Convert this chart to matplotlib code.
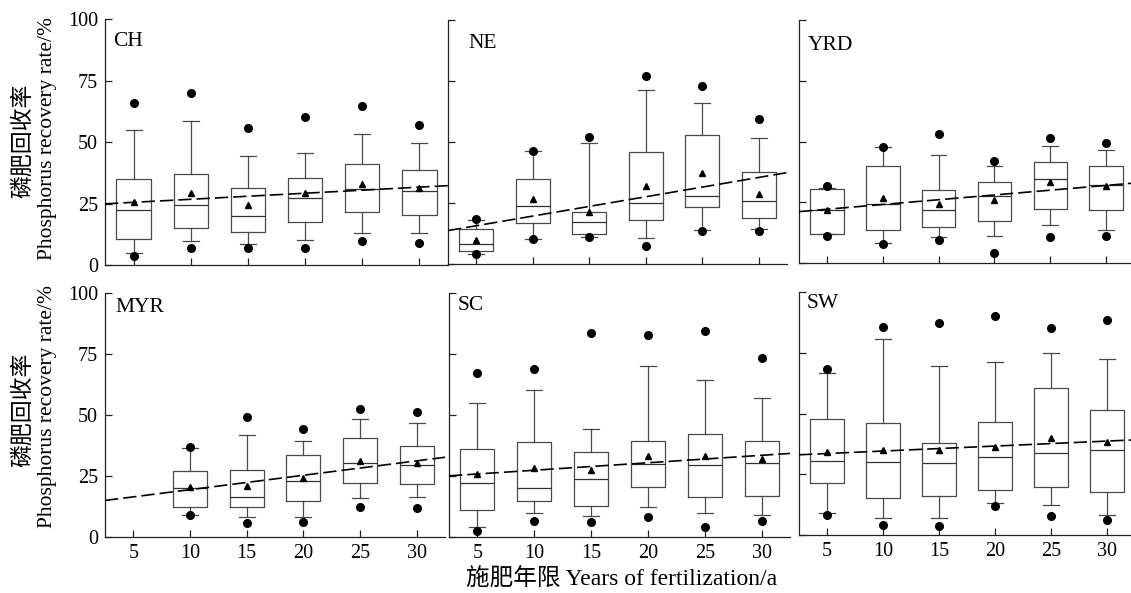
import numpy as np
import matplotlib
matplotlib.use('Agg')
import matplotlib.pyplot as plt

plt.rcParams['font.family'] = ['Liberation Serif', 'Noto Sans CJK SC']

# region order: CH, NE, YRD (top row), MYR, SC, SW (bottom row)
regions = ['CH', 'NE', 'YRD', 'MYR', 'SC', 'SW']
years = [5, 10, 15, 20, 25, 30]

# percentiles (None = no data)
p5 = [[3.8, 6.9, 6.9, 6.9, 9.7, 8.8],
      [4.1, 10.4, 11.0, 7.5, 13.7, 13.7],
      [11.2, 8.0, 9.5, 4.1, 10.9, 11.3],
      [None, 9.2, 5.6, 6.1, 12.2, 12.0],
      [2.3, 6.6, 6.3, 8.2, 4.0, 6.7],
      [8.1, 4.0, 3.6, 12.1, 7.8, 6.3]]
whislo = [[5.0, 9.6, 8.4, 10.3, 13.1, 13.0],
          [4.1, 10.4, 11.0, 10.7, 13.8, 14.5],
          [11.8, 8.3, 10.8, 11.3, 15.8, 13.6],
          [None, 9.2, 8.1, 8.1, 15.8, 16.4],
          [4.1, 9.8, 8.5, 12.4, 9.8, 9.0],
          [8.9, 7.1, 7.0, 13.3, 12.4, 8.1]]
q1 = [[10.7, 14.9, 13.4, 17.4, 21.5, 20.3],
      [5.3, 16.6, 12.3, 18.2, 23.4, 18.9],
      [12.0, 13.8, 14.7, 17.2, 22.1, 21.7],
      [None, 12.4, 12.4, 14.6, 22.1, 21.9],
      [10.9, 14.9, 12.6, 20.5, 16.4, 16.9],
      [21.3, 15.1, 16.2, 18.7, 19.9, 17.6]]
med = [[22.2, 24.3, 20.1, 27.2, 30.9, 30.1],
       [8.1, 23.7, 17.0, 25.1, 27.9, 25.9],
       [21.9, 24.2, 21.7, 27.5, 34.6, 32.2],
       [None, 20.1, 16.4, 23.0, 30.2, 29.4],
       [22.1, 19.9, 23.8, 29.9, 29.6, 30.3],
       [30.4, 29.9, 29.8, 32.0, 33.9, 34.9]]
mean = [[25.7, 29.5, 24.6, 29.2, 33.1, 31.5],
        [9.7, 26.7, 21.4, 32.1, 37.4, 28.8],
        [21.9, 26.8, 24.5, 26.0, 33.5, 31.7],
        [None, 20.6, 20.9, 24.2, 31.3, 30.3],
        [26.0, 28.3, 27.6, 33.3, 33.3, 32.0],
        [34.1, 34.8, 35.0, 36.4, 40.0, 38.3]]
q3 = [[35.1, 37.2, 31.2, 35.5, 41.2, 38.8],
      [14.2, 34.9, 21.4, 45.8, 52.9, 37.7],
      [30.7, 40.2, 30.0, 33.5, 41.8, 40.1],
      [None, 26.9, 27.6, 33.6, 40.4, 37.4],
      [36.1, 38.8, 35.0, 39.2, 42.2, 39.2],
      [47.7, 45.9, 37.8, 46.7, 60.4, 51.4]]
whishi = [[54.9, 58.6, 44.6, 45.5, 53.5, 49.7],
          [17.9, 46.2, 49.6, 71.0, 65.8, 51.5],
          [31.0, 48.0, 44.7, 39.8, 48.3, 46.7],
          [None, 36.5, 41.9, 39.3, 48.4, 46.7],
          [55.1, 60.2, 44.3, 69.9, 64.5, 57.0],
          [66.5, 80.6, 69.5, 71.0, 74.9, 72.3]]
p95 = [[66.1, 70.0, 55.9, 60.4, 64.9, 57.0],
       [18.3, 46.2, 52.1, 77.0, 72.6, 59.2],
       [31.8, 48.0, 53.0, 42.2, 51.5, 49.4],
       [None, 36.7, 49.3, 44.4, 52.6, 51.4],
       [67.1, 68.7, 83.6, 82.9, 84.4, 73.4],
       [68.5, 85.4, 87.2, 90.0, 85.2, 88.3]]

# dashed trend line per region: y = intercept + slope * year
trend_slope = [0.247, 0.79, 0.393, 0.59, 0.306, 0.205]
trend_intercept = [24.3, 11.7, 20.2, 13.5, 24.3, 32.5]

W, H = 1131, 593
fig = plt.figure(figsize=(W / 100, H / 100), dpi=100)

# panel boxes in pixels: left, right, top(y=100), bottom(y=0)
boxes_px = [(105, 448, 19.5, 265), (448, 787, 19.5, 264), (799, 1134, 20.5, 263),
            (105, 445, 293, 537), (449, 790, 293, 537), (799, 1135, 292, 535)]
label_off = [(8, -13), (20, -14), (9, -15), (10, -5), (9, -3), (8, -2)]

edge = '#4a4a4a'
for i, name in enumerate(regions):
    l, r, t, b = boxes_px[i]
    ax = fig.add_axes([l / W, 1 - b / H, (r - l) / W, (b - t) / H])
    ax.patch.set_alpha(0)

    stats, pos = [], []
    for j, yr in enumerate(years):
        if med[i][j] is None:
            continue
        stats.append(dict(med=med[i][j], q1=q1[i][j], q3=q3[i][j],
                          whislo=whislo[i][j], whishi=whishi[i][j],
                          mean=mean[i][j], fliers=[p5[i][j], p95[i][j]]))
        pos.append(yr)
    ax.bxp(stats, positions=pos, widths=3.0, capwidths=1.4, showmeans=True,
           manage_ticks=False,
           boxprops=dict(color=edge, lw=0.9),
           whiskerprops=dict(color=edge, lw=0.9),
           capprops=dict(color=edge, lw=0.9),
           medianprops=dict(color='#333333', lw=0.9),
           meanprops=dict(marker='^', markerfacecolor='black', markeredgecolor='black', markersize=5),
           flierprops=dict(marker='o', markerfacecolor='black', markeredgecolor='black', markersize=5.5))

    xs = np.array([2.5, 32.5])
    ax.plot(xs, trend_intercept[i] + trend_slope[i] * xs, color='black', lw=1.2,
            ls=(0, (8, 3)), zorder=5)

    ax.set_xlim(2.5, 32.5)
    ax.set_ylim(0, 100)
    ax.set_xticks(years)
    ax.set_xticklabels([str(y) for y in years])
    ax.set_yticks([0, 25, 50, 75, 100])
    for s in ['top', 'right']:
        ax.spines[s].set_visible(False)
    for s in ['left', 'bottom']:
        ax.spines[s].set_color('#222222')
        ax.spines[s].set_linewidth(0.9)
    ax.tick_params(direction='in', length=5, width=0.9, color='#222222',
                   labelsize=14.5, pad=5)
    if i % 3 != 0:
        ax.tick_params(axis='y', labelleft=False)
    if i < 3:
        ax.tick_params(axis='x', labelbottom=False)
    ax.annotate(name, xy=(0, 1), xycoords='axes fraction',
                xytext=label_off[i], textcoords='offset pixels',
                ha='left', va='top', fontsize=15.5)

# y labels (two lines, two fonts)
for yc in [141, 410]:
    fig.text(23 / W, 1 - yc / H, '磷肥回收率', rotation=90, ha='center', va='center',
             fontsize=16.5, family=['Noto Sans CJK SC'])
    fig.text(48 / W, 1 - (yc - 3) / H, 'Phosphorus recovery rate/%', rotation=90,
             ha='center', va='center', fontsize=15.5)

fig.text(622 / W, 1 - 580 / H, '施肥年限 Years of fertilization/a', ha='center', va='center',
         fontsize=17)

fig.savefig('out.png', dpi=100)
